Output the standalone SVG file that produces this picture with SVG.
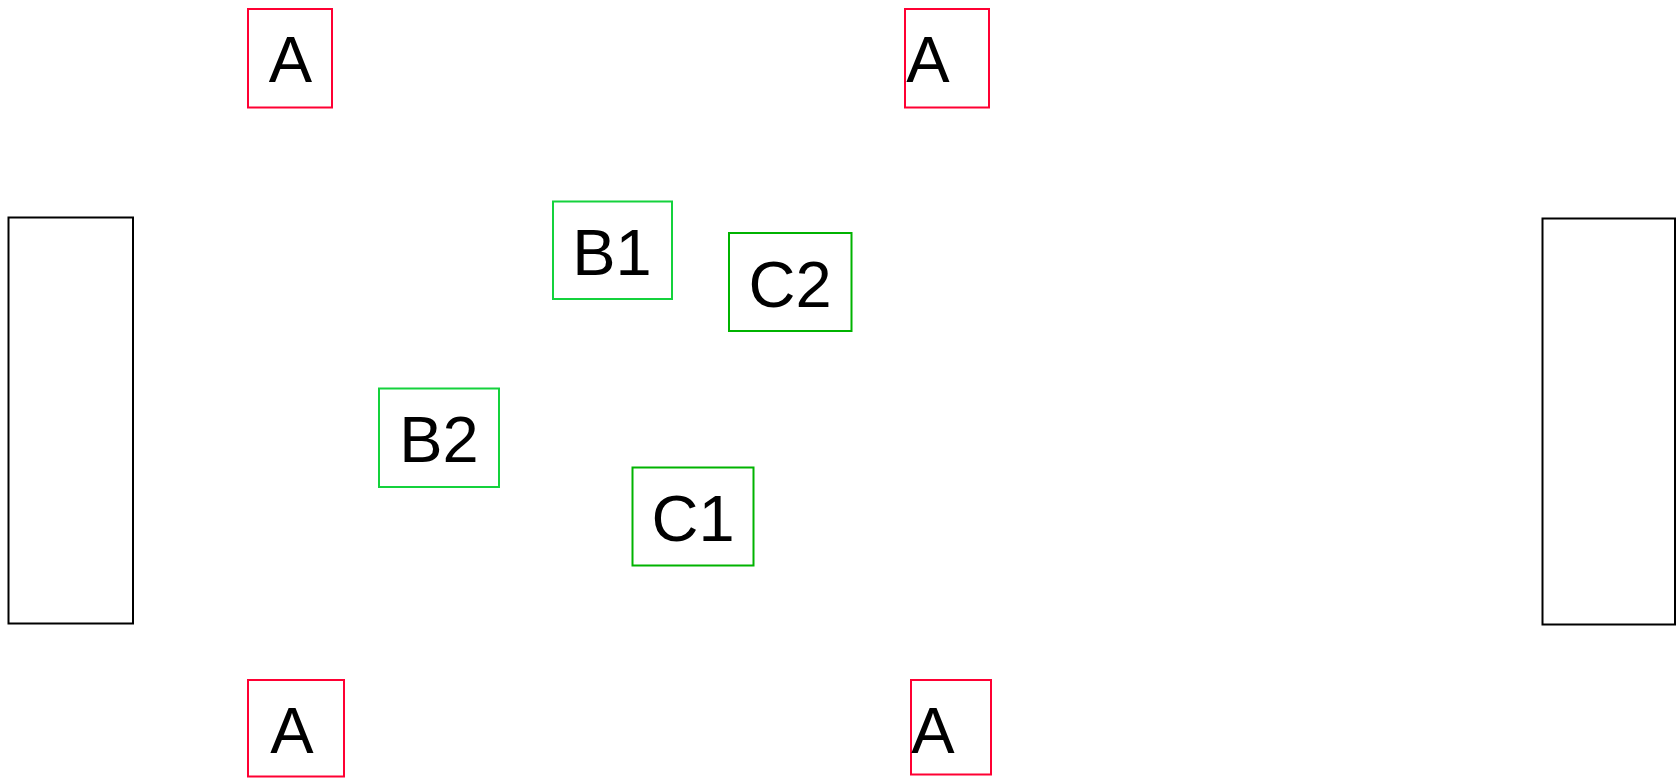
<svg xmlns="http://www.w3.org/2000/svg" width="1680" height="778" viewBox="0 0 1680 778">
<style>
.lbl{font-family:"Liberation Sans",Arial,sans-serif;font-size:65px;fill:#000;text-anchor:middle}
.red{fill:#fff;stroke:#ff0033;stroke-width:2}
.gl{fill:#fff;stroke:#14d23c;stroke-width:2}
.gd{fill:#fff;stroke:#00b300;stroke-width:2}
.blk{fill:#fff;stroke:#000;stroke-width:2}
</style>
<rect width="1680" height="778" fill="#fff"/>
<g id="connectors"></g>
<g id="left-bar"><rect class="blk" x="8.5" y="217.5" width="124.5" height="406"/></g>
<g id="right-bar"><rect class="blk" x="1542.5" y="218.5" width="132.5" height="406"/></g>
<g id="a-top-left"><rect class="red" x="248" y="9" width="84" height="98.5"/><text class="lbl" x="290.5" y="81.7">A</text></g>
<g id="a-top-right"><rect class="red" x="905" y="9" width="84" height="98.5"/><text class="lbl" x="928" y="81.7">A</text></g>
<g id="a-bottom-left"><rect class="red" x="248" y="680" width="96" height="96.5"/><text class="lbl" x="292" y="752.5">A</text></g>
<g id="a-bottom-right"><rect class="red" x="911" y="680" width="80" height="94.5"/><text class="lbl" x="933" y="752.5">A</text></g>
<g id="b1"><rect class="gl" x="553" y="201.5" width="119" height="97.5"/><text class="lbl" x="612" y="275">B1</text></g>
<g id="b2"><rect class="gl" x="379" y="388.5" width="120" height="98.5"/><text class="lbl" x="439" y="462">B2</text></g>
<g id="c2"><rect class="gd" x="729" y="233" width="122.5" height="98"/><text class="lbl" x="790" y="306.7">C2</text></g>
<g id="c1"><rect class="gd" x="632.5" y="467.5" width="121" height="98"/><text class="lbl" x="693" y="541">C1</text></g>
</svg>
